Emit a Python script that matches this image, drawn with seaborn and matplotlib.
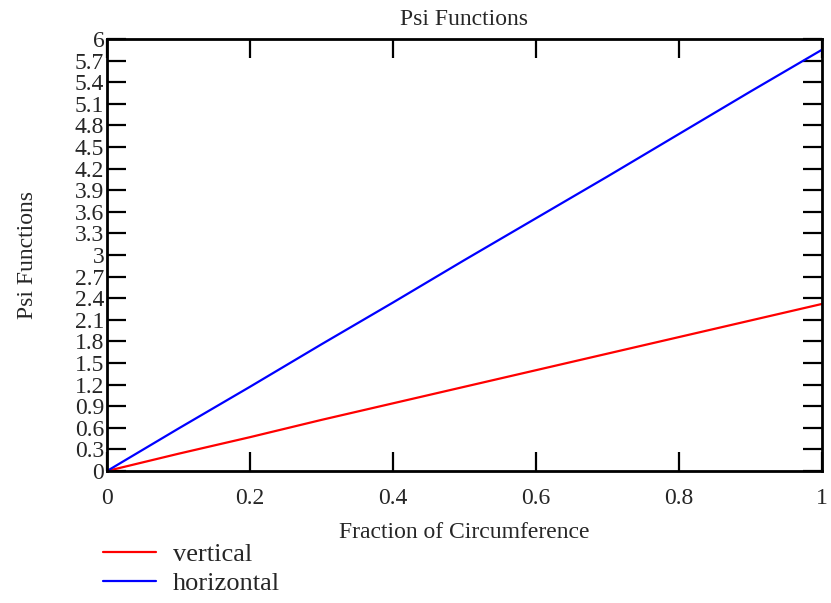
import numpy as np
import pandas as pd
import matplotlib.pyplot as plt
import seaborn as sns

# values at every 0.1 of circumference
fraction = [0.0, 0.1, 0.2, 0.3, 0.4, 0.5, 0.6, 0.7, 0.8, 0.9, 1.0]
psi_vertical = [0.0, 0.24, 0.47, 0.71, 0.94, 1.17, 1.40, 1.63, 1.86, 2.09, 2.32]
psi_horizontal = [0.0, 0.59, 1.17, 1.76, 2.34, 2.93, 3.51, 4.09, 4.68, 5.27, 5.85]

series_names = ["vertical", "horizontal"]
series_colors = ["#ff0000", "#0000ff"]
y_ticks = [round(0.3 * i, 1) for i in range(21)]
x_ticks = [0, 0.2, 0.4, 0.6, 0.8, 1]

df = pd.DataFrame({
    "Fraction of Circumference": fraction * 2,
    "Psi Functions": psi_vertical + psi_horizontal,
    "series": ["vertical"] * len(fraction) + ["horizontal"] * len(fraction),
})

sns.set_style("white")
plt.rcParams["font.family"] = ["Liberation Serif", "DejaVu Serif"]
fs = 17

fig = plt.figure(figsize=(8.31, 6.03), dpi=100)
ax = fig.add_axes([0.1288, 0.2189, 0.8602, 0.7164])

sns.lineplot(data=df, x="Fraction of Circumference", y="Psi Functions",
             hue="series", hue_order=series_names,
             palette=dict(zip(series_names, series_colors)),
             linewidth=1.6, ax=ax, legend=False)

ax.set_xlim(0, 1)
ax.set_ylim(0, 6)
ax.set_xticks(x_ticks)
ax.set_xticklabels(["0", "0.2", "0.4", "0.6", "0.8", "1"])
ax.set_yticks(y_ticks)
ax.set_yticklabels([f"{v:g}" for v in y_ticks])
ax.tick_params(direction="in", length=14, width=1.6, color="black",
               top=True, right=True, left=True, bottom=True,
               labelsize=fs, pad=2)
ax.tick_params(axis="x", pad=12)
for s in ax.spines.values():
    s.set_color("black")
    s.set_linewidth(2)

ax.set_xlabel("Fraction of Circumference", fontsize=fs)
ax.xaxis.set_label_coords(0.5, -0.118)
ax.set_ylabel("Psi Functions", fontsize=fs)
ax.yaxis.set_label_coords(-0.097, 0.5)
ax.set_title("Psi Functions", fontsize=fs, pad=10)

handles = [plt.Line2D([], [], color=c, linewidth=1.6) for c in series_colors]
fig.legend(handles, series_names, loc="upper left",
           bbox_to_anchor=(0.124, 0.0997), frameon=False, fontsize=19,
           handlelength=2.0, handletextpad=0.65, labelspacing=0.2,
           borderpad=0, borderaxespad=0)

plt.savefig("out.png", dpi=100)
plt.close()
